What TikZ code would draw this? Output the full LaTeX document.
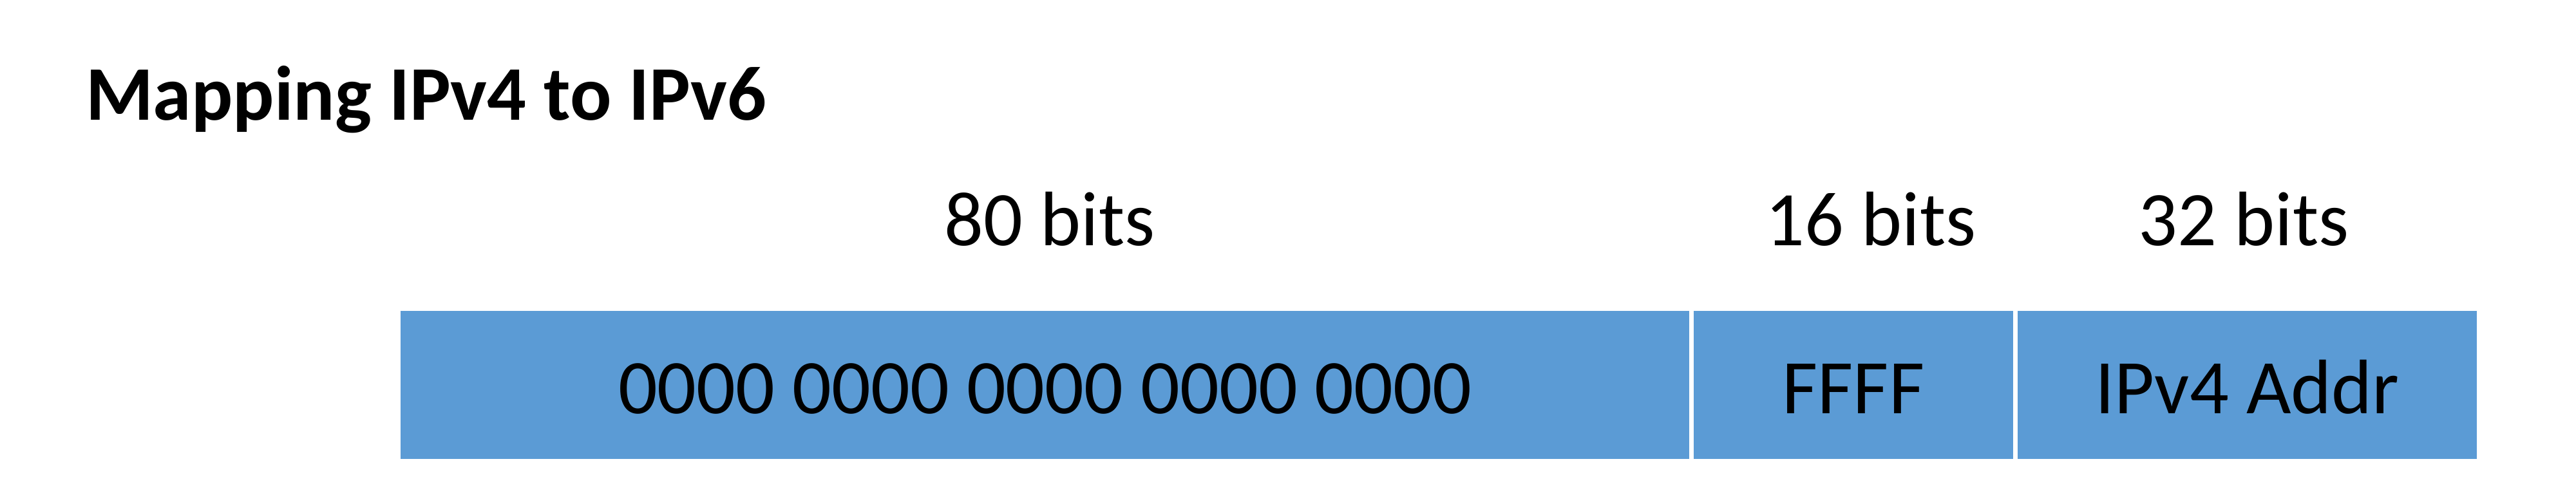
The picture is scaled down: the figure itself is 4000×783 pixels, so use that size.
\documentclass[tikz,border=0pt]{standalone}
\usepackage{fontspec}
\setmainfont{Carlito}
\definecolor{cellblue}{HTML}{5B9BD5}
\begin{document}
\begin{tikzpicture}[x=0.2pt,y=-0.2pt,
  every node/.style={font=\fontsize{24}{28.8}\selectfont, inner sep=0pt, outer sep=0pt},
  cell/.style={rectangle, fill=cellblue, draw=none, minimum height=46pt, text height=18pt, text depth=0pt},
  bitlabel/.style={anchor=base},
  titletext/.style={anchor=base west, font=\fontsize{24}{28.8}\selectfont\bfseries}]
\useasboundingbox (0,0) rectangle (4000,783);
\fill[white] (0,0) rectangle (4000,783);
\node[titletext] (title) at (133,187) {Mapping IPv4 to IPv6};
\node[cell, minimum width=400.2pt] (c1) at (1622.5,598) {0000 0000 0000 0000 0000};
\node[cell, minimum width=99.2pt] (c2) at (2878,598) {FFFF};
\node[cell, minimum width=142.6pt] (c3) at (3489.5,598) {IPv4 Addr};
\node[bitlabel] (l1) at (1630,382) {80 bits};
\node[bitlabel] (l2) at (2905,382) {16 bits};
\node[bitlabel] (l3) at (3484,382) {32 bits};
\end{tikzpicture}
\end{document}
